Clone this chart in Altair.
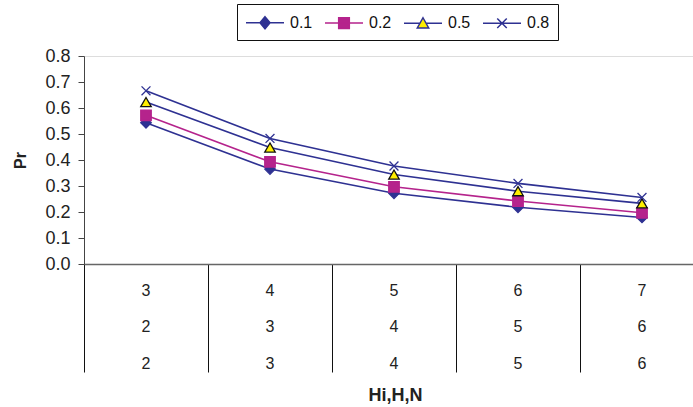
import altair as alt
import pandas as pd

# ---- data ----
hi_vals = [3, 4, 5, 6, 7]
h_vals = [2, 3, 4, 5, 6]
n_vals = [2, 3, 4, 5, 6]
categories = [f"{a},{b},{c}" for a, b, c in zip(hi_vals, h_vals, n_vals)]

series_names = ["0.1", "0.2", "0.5", "0.8"]
pr_01 = [0.543, 0.365, 0.272, 0.218, 0.179]
pr_02 = [0.572, 0.393, 0.297, 0.242, 0.197]
pr_05 = [0.623, 0.448, 0.344, 0.280, 0.233]
pr_08 = [0.666, 0.483, 0.377, 0.310, 0.256]
y_ticks = [0.0, 0.1, 0.2, 0.3, 0.4, 0.5, 0.6, 0.7, 0.8]

# ---- styles ----
NAVY = "#2E3192"
MAG = "#B5238C"
YEL = "#FFEE00"
FONT = "Liberation Sans"
line_colors = [NAVY, MAG, NAVY, NAVY]
point_shapes = ["diamond", "square", "triangle-up",
                "M-0.85,-0.85L0.85,0.85M-0.85,0.85L0.85,-0.85"]
point_fills = [NAVY, MAG, YEL, "transparent"]
point_strokes = [NAVY, MAG, "#111111", NAVY]
legend_paths = [
    "M-1,0L3,0M1,-0.63L1.53,0L1,0.63L0.47,0Z",
    "M-1,0L3,0M0.44,-0.56L1.56,-0.56L1.56,0.56L0.44,0.56Z",
    "M-1,0L0.7,0M1.3,0L3,0M1,-0.58L1.6,0.5L0.4,0.5Z",
    "M-1,0L3,0M0.5,-0.5L1.5,0.5M0.5,0.5L1.5,-0.5",
]
legend_strokes = [NAVY, MAG, NAVY, NAVY]

rows = []
for s, vals in zip(series_names, [pr_01, pr_02, pr_05, pr_08]):
    for c, v in zip(categories, vals):
        rows.append({"cat": c, "series": s, "pr": v})
df = pd.DataFrame(rows)

x_enc = alt.X(
    "cat:O",
    sort=categories,
    scale=alt.Scale(type="band", domain=categories, range=[0, 620],
                    paddingInner=0, paddingOuter=0),
    axis=alt.Axis(
        title="Hi,H,N", titleFont=FONT, titleFontSize=18, titleFontWeight="bold",
        titleColor="#222222", titleX=311, titleY=131, titleBaseline="middle",
        titleAlign="center",
        bandPosition=0, ticks=True, tickSize=108, tickColor="#111111", tickWidth=1,
        domainColor="#666666", domainWidth=1.5,
        labelExpr="split(datum.label, ',')", labelLineHeight=36.5,
        labelBaseline="top", labelPadding=-90,
        labelFont=FONT, labelFontSize=16, labelColor="#222222",
        labelAngle=0, labelOverlap=False, grid=False,
    ),
)
y_enc = alt.Y(
    "pr:Q",
    scale=alt.Scale(domain=[0, 0.8], nice=False, zero=True),
    axis=alt.Axis(
        title="Pr", titleFont=FONT, titleFontSize=16, titleFontWeight="bold",
        titleColor="#222222", titleX=-64, titleY=104, titleBaseline="middle",
        titleAlign="center",
        values=y_ticks, format=".1f", tickSize=6, tickColor="#444444",
        domainColor="#444444", labelPadding=8, labelFont=FONT,
        labelFontSize=18, labelColor="#222222", grid=False,
    ),
)

lines = alt.Chart(df).mark_line(strokeWidth=1.6).encode(
    x=x_enc, y=y_enc,
    stroke=alt.Stroke("series:N", scale=alt.Scale(domain=series_names, range=line_colors),
                      legend=None),
)

points = alt.Chart(df).mark_point(filled=True, size=110, strokeWidth=1.3, opacity=1).encode(
    x=x_enc, y=y_enc,
    shape=alt.Shape("series:N", scale=alt.Scale(domain=series_names, range=point_shapes),
                    legend=None),
    fill=alt.Fill("series:N", scale=alt.Scale(domain=series_names, range=point_fills),
                  legend=None),
    stroke=alt.Stroke("series:N", scale=alt.Scale(domain=series_names, range=point_strokes),
                      legend=None),
    order=alt.Order("series:N"),
)

leg = alt.Legend(
    title=None, orient="none", legendX=153, legendY=-52, direction="horizontal",
    columns=4, strokeColor="#111111", padding=8, symbolSize=361,
    symbolStrokeWidth=1.5, labelFont=FONT, labelFontSize=16, labelColor="#111111",
    labelOffset=24, columnPadding=9, symbolOpacity=1,
)

legend_layer = alt.Chart(df).transform_filter("false").mark_point(
    filled=True, size=361, strokeWidth=1.5, opacity=1
).encode(
    shape=alt.Shape("series:N", scale=alt.Scale(domain=series_names, range=legend_paths),
                    legend=leg),
    fill=alt.Fill("series:N", scale=alt.Scale(domain=series_names, range=point_fills),
                  legend=leg),
    stroke=alt.Stroke("series:N", scale=alt.Scale(domain=series_names, range=legend_strokes),
                      legend=leg),
)

chart = alt.layer(lines, points, legend_layer).resolve_scale(
    shape="independent", fill="independent", stroke="independent"
).properties(
    width=609, height=208,
    autosize=alt.AutoSizeParams(type="none"),
    padding={"left": 84, "top": 56, "right": 0, "bottom": 143},
).configure_view(stroke=None).configure(background="white")

chart.save("out.html", embed_options={"renderer": "svg", "actions": False})
